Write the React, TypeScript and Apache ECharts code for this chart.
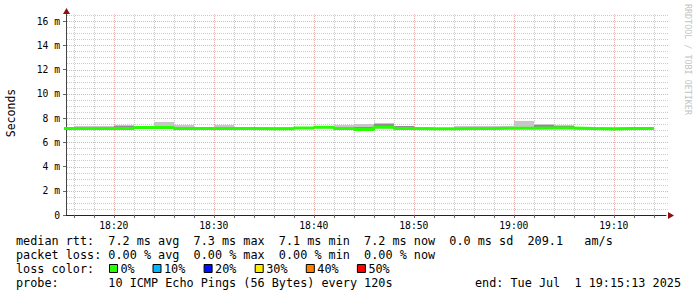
import React, { useEffect, useRef } from 'react';
import * as echarts from 'echarts';

const W = 697;
const H = 297;
const FONT = "'DejaVu Sans Mono', monospace";

// ---- data (2-minute bins, values in milliseconds) ----
const binStarts = [
  '18:14', '18:16', '18:18', '18:20', '18:22', '18:24', '18:26', '18:28', '18:30', '18:32',
  '18:34', '18:36', '18:38', '18:40', '18:42', '18:44', '18:46', '18:48', '18:50', '18:52',
  '18:54', '18:56', '18:58', '19:00', '19:02', '19:04', '19:06', '19:08', '19:10', '19:12',
];
const BIN_SEC = 120;
const medianRtt = [
  7.14, 7.13, 7.13, 7.14, 7.22, 7.22, 7.14, 7.14, 7.14, 7.13,
  7.12, 7.12, 7.18, 7.24, 7.14, 7.06, 7.24, 7.14, 7.12, 7.12,
  7.14, 7.14, 7.16, 7.16, 7.18, 7.18, 7.13, 7.10, 7.14, 7.14,
];
const smokeLow = [
  7.04, 7.03, 7.03, 7.04, 7.12, 7.12, 7.04, 7.04, 7.04, 7.03,
  7.02, 7.02, 7.08, 7.14, 7.04, 6.98, 7.14, 7.04, 7.02, 7.02,
  7.04, 7.04, 7.06, 7.06, 7.08, 7.08, 7.03, 7.0, 7.04, 7.04,
];
const smokeHigh = [
  7.3, 7.34, 7.34, 7.42, 7.28, 7.7, 7.42, 7.25, 7.42, 7.25,
  7.22, 7.22, 7.28, 7.3, 7.42, 7.5, 7.56, 7.36, 7.22, 7.2,
  7.32, 7.32, 7.32, 7.78, 7.52, 7.45, 7.2, 7.28, 7.22, 7.22,
];
const denseLow = [
  null, null, null, 7.26, null, null, null, null, null, null,
  null, null, null, null, null, 7.08, 7.36, 7.26, null, null,
  null, null, null, null, 7.3, 7.28, null, null, null, null,
];
const denseHigh = [
  null, null, null, 7.34, null, null, null, null, null, null,
  null, null, null, null, null, 7.26, 7.5, 7.36, null, null,
  null, null, null, null, 7.42, 7.38, null, null, null, null,
];

// ---- axes ----
const START_TIME = '18:15:13';
const END_TIME = '19:15:13';
const Y_MAX = 16.58;
const yTickValues = [0, 2, 4, 6, 8, 10, 12, 14, 16];
const xTickLabels = ['18:20', '18:30', '18:40', '18:50', '19:00', '19:10'];
const GRID_MINOR_SEC = 120;
const GRID_MINOR_Y = 0.5;

// ---- legend texts ----
const rttLine = 'median rtt:  7.2 ms avg  7.3 ms max  7.1 ms min  7.2 ms now  0.0 ms sd  209.1   am/s';
const lossLine = 'packet loss: 0.00 % avg  0.00 % max  0.00 % min  0.00 % now';
const lossColorTitle = 'loss color:';
const lossLabels = ['0%', '10%', '20%', '30%', '40%', '50%'];
const lossColors = ['#26ff00', '#00b8ff', '#0010ff', '#ffee00', '#ff8000', '#ff0000'];
const probeLine = 'probe:       10 ICMP Echo Pings (56 Bytes) every 120s';
const endLine = 'end: Tue Jul  1 19:15:13 2025';
const watermark = 'RRDTOOL / TOBI OETIKER';

const MINOR_GRID_COLOR = '#cccccc';
const MAJOR_GRID_COLOR = '#e4b0b0';

function toSec(s: string): number {
  const p = s.split(':').map(Number);
  return p[0] * 3600 + p[1] * 60 + (p[2] || 0);
}
function fmtTime(v: number): string {
  const h = Math.floor(v / 3600);
  const m = Math.round((v - h * 3600) / 60);
  return String(h).padStart(2, '0') + ':' + String(m).padStart(2, '0');
}

const START = toSec(START_TIME);
const END = toSec(END_TIME);

const LEG_FS = 11.8;
const CW = LEG_FS * 0.60205;
const LEG_X = 16;

function monoTexts(text: string, x0: number, y: number, fs: number, cw: number, fill = '#000') {
  const out: any[] = [];
  const re = /\S+/g;
  let m: RegExpExecArray | null;
  while ((m = re.exec(text))) {
    out.push({
      type: 'text',
      x: x0 + m.index * cw,
      y,
      silent: true,
      style: { text: m[0], fontFamily: FONT, fontSize: fs, fill, align: 'left', verticalAlign: 'middle' },
    });
  }
  return out;
}

export default function App() {
  const ref = useRef<HTMLDivElement>(null);

  useEffect(() => {
    if (!ref.current) return;
    const chart = echarts.init(ref.current, null, { renderer: 'svg', width: W, height: H });

    const minorTimes: number[] = [];
    for (let t = toSec(binStarts[0]) + GRID_MINOR_SEC; t < END; t += GRID_MINOR_SEC) {
      if (t > START) minorTimes.push(t);
    }
    const majorTimes = xTickLabels.map((s) => toSec(s));
    const vGrid = minorTimes.map((t) => [t, majorTimes.includes(t) ? 1 : 0]);
    const hGrid: number[][] = [];
    for (let v = GRID_MINOR_Y; v <= Y_MAX; v += GRID_MINOR_Y) {
      hGrid.push([v, yTickValues.includes(v) ? 1 : 0]);
    }

    const smokeData = binStarts.map((s, i) => [toSec(s), toSec(s) + BIN_SEC, smokeLow[i], smokeHigh[i]]);
    const denseData = binStarts
      .map((s, i) => [toSec(s), toSec(s) + BIN_SEC, denseLow[i], denseHigh[i]])
      .filter((d) => d[2] != null && d[3] != null);
    const last = binStarts.length - 1;
    const medianData = binStarts.map((s, i) => [toSec(s), medianRtt[i]]);
    medianData.push([toSec(binStarts[last]) + BIN_SEC, medianRtt[last]]);

    const bandItem = (fill: string) => (params: any, api: any) => {
      const t0 = Math.max(api.value(0), START);
      const t1 = Math.min(api.value(1), END);
      const p0 = api.coord([t0, api.value(3)]);
      const p1 = api.coord([t1, api.value(2)]);
      const x = Math.round(p0[0]);
      const y = Math.round(p0[1]);
      return {
        type: 'rect',
        shape: { x, y, width: Math.round(p1[0]) - x, height: Math.max(1, Math.round(p1[1]) - y) },
        style: { fill },
      };
    };

    const legendBoxX = [109, 152.5, 203.6, 254.7, 305.8, 356.9];
    const lineY = [241, 255, 269, 283];

    const graphic: any[] = [
      ...monoTexts(rttLine, LEG_X, lineY[0], LEG_FS, CW),
      ...monoTexts(lossLine, LEG_X, lineY[1], LEG_FS, CW),
      ...monoTexts(lossColorTitle, LEG_X, lineY[2], LEG_FS, CW),
      ...monoTexts(probeLine, LEG_X, lineY[3], LEG_FS, CW),
      ...monoTexts(endLine, 681 - endLine.length * CW, lineY[3], LEG_FS, CW),
    ];
    lossLabels.forEach((lab, i) => {
      graphic.push({
        type: 'rect',
        shape: { x: legendBoxX[i] + 0.5, y: lineY[2] - 4.5, width: 8, height: 8 },
        style: { fill: lossColors[i], stroke: '#000', lineWidth: 1 },
        silent: true,
      });
      graphic.push({
        type: 'text',
        x: legendBoxX[i] + 11.5,
        y: lineY[2],
        silent: true,
        style: { text: lab, fontFamily: FONT, fontSize: LEG_FS, fill: '#000', align: 'left', verticalAlign: 'middle' },
      });
    });
    graphic.push({
      type: 'text',
      x: 11,
      y: 113,
      rotation: Math.PI / 2,
      silent: true,
      style: { text: 'Seconds', fontFamily: FONT, fontSize: 11.5, fill: '#000', align: 'center', verticalAlign: 'middle' },
    });
    graphic.push({
      type: 'text',
      x: 688,
      y: 4,
      rotation: -Math.PI / 2,
      silent: true,
      style: { text: watermark, fontFamily: FONT, fontSize: 8.4, fill: '#c4c4c4', align: 'left', verticalAlign: 'middle' },
    });
    // axis arrows
    graphic.push({
      type: 'polygon',
      silent: true,
      shape: { points: [[63, 14], [70, 14], [66.5, 8]] },
      style: { fill: '#8b1010' },
    });
    graphic.push({
      type: 'polygon',
      silent: true,
      shape: { points: [[668, 212], [668, 219], [674, 215.5]] },
      style: { fill: '#8b1010' },
    });

    chart.setOption({
      animation: false,
      backgroundColor: '#ffffff',
      grid: { left: 66, top: 14, width: 600, height: 201, containLabel: false },
      xAxis: {
        type: 'value',
        min: START,
        max: END,
        axisLine: { show: true, onZero: false, lineStyle: { color: '#222', width: 1 } },
        axisTick: { show: true, customValues: minorTimes, length: 3, lineStyle: { color: '#666' } },
        axisLabel: {
          customValues: majorTimes,
          formatter: (v: number) => fmtTime(v),
          fontFamily: FONT,
          fontSize: 9.7,
          color: '#000',
          margin: 5,
        },
        splitLine: { show: false },
      },
      yAxis: {
        type: 'value',
        min: 0,
        max: Y_MAX,
        axisLine: { show: true, lineStyle: { color: '#444', width: 1 } },
        axisTick: { show: true, customValues: yTickValues, length: 3, lineStyle: { color: '#666' } },
        axisLabel: {
          customValues: yTickValues,
          formatter: (v: number) => (v === 0 ? '0' : v + ' m'),
          fontFamily: FONT,
          fontSize: 9.7,
          color: '#000',
          margin: 6,
        },
        splitLine: { show: false },
      },
      graphic,
      series: [
        {
          type: 'custom',
          name: 'vgrid',
          silent: true,
          z: 1,
          data: vGrid,
          renderItem: (params: any, api: any) => {
            const t = api.value(0);
            const p0 = api.coord([t, 0]);
            const p1 = api.coord([t, Y_MAX]);
            const x = Math.round(p0[0]) + 0.5;
            return {
              type: 'line',
              shape: { x1: x, y1: p0[1], x2: x, y2: p1[1] },
              style: { stroke: api.value(1) ? MAJOR_GRID_COLOR : MINOR_GRID_COLOR, lineWidth: 1, lineDash: [1, 1] },
            };
          },
        },
        {
          type: 'custom',
          name: 'hgrid',
          silent: true,
          z: 1,
          data: hGrid,
          renderItem: (params: any, api: any) => {
            const v = api.value(0);
            const p0 = api.coord([START, v]);
            const p1 = api.coord([END, v]);
            const y = Math.round(p0[1]) + 0.5;
            return {
              type: 'line',
              shape: { x1: p0[0] + 1, y1: y, x2: p1[0] + 2, y2: y },
              style: { stroke: api.value(1) ? MAJOR_GRID_COLOR : MINOR_GRID_COLOR, lineWidth: 1, lineDash: [1, 1] },
            };
          },
        },
        {
          type: 'custom',
          name: 'smoke',
          silent: true,
          z: 2,
          data: smokeData,
          renderItem: bandItem('#c6c6c6'),
        },
        {
          type: 'custom',
          name: 'dense',
          silent: true,
          z: 3,
          data: denseData,
          renderItem: bandItem('#8e8e8e'),
        },
        {
          type: 'line',
          name: 'median',
          step: 'end',
          z: 4,
          showSymbol: false,
          silent: true,
          clip: true,
          data: medianData,
          lineStyle: { color: lossColors[0], width: 3 },
        },
      ],
    });

    return () => chart.dispose();
  }, []);

  return (
    <div
      ref={ref}
      style={{ position: 'fixed', left: 0, top: 0, width: W, height: H, background: '#fff' }}
    />
  );
}
